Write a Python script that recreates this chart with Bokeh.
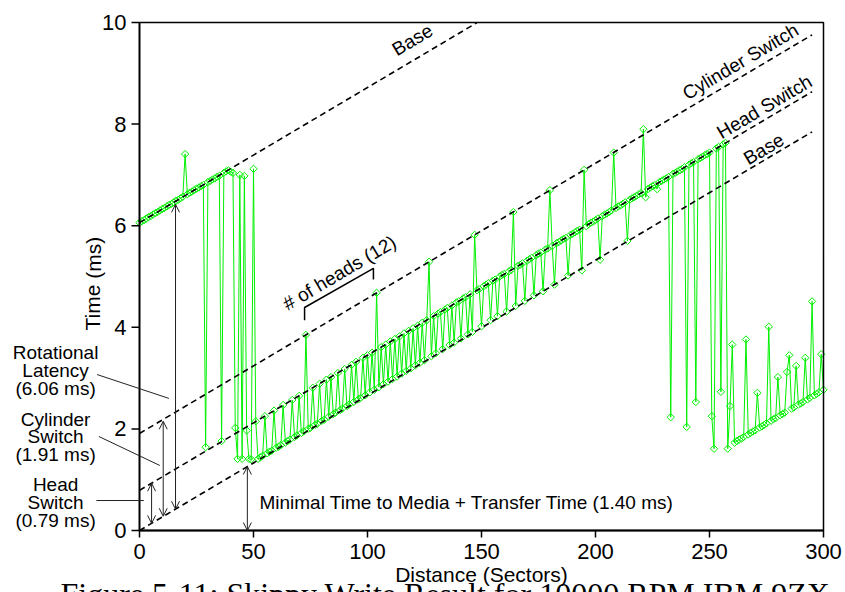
from bokeh.plotting import figure
from bokeh.models import Range1d, Label, Arrow, OpenHead
from bokeh.core.properties import value
from bokeh.embed import file_html
from bokeh.resources import INLINE

# ---------------- data ----------------
distance = list(range(0, 301))  # sectors
time_ms = [
    6.06, 6.09, 6.11, 6.14, 6.17, 6.19, 6.22, 6.25, 6.27, 6.30,
    6.33, 6.35, 6.38, 6.41, 6.43, 6.46, 6.49, 6.51, 6.54, 6.57,
    7.41, 6.62, 6.65, 6.67, 6.70, 6.73, 6.75, 6.78, 6.80, 1.64,
    6.86, 6.88, 6.91, 6.93, 6.96, 6.98, 1.76, 7.04, 7.07, 7.09,
    7.06, 7.04, 2.02, 1.41, 7.00, 1.41, 6.98, 1.97, 1.41, 1.40,
    7.12, 2.15, 1.41, 1.44, 1.47, 2.25, 1.52, 1.55, 1.57, 2.36,
    1.63, 1.65, 1.68, 2.47, 1.73, 1.76, 1.79, 2.57, 1.84, 1.87,
    2.65, 1.92, 1.95, 3.85, 2.00, 2.02, 2.81, 2.08, 2.10, 2.89,
    2.16, 2.18, 2.97, 2.24, 3.02, 2.29, 2.32, 3.10, 2.37, 2.40,
    3.18, 2.45, 2.48, 3.26, 2.53, 3.32, 2.58, 2.61, 3.40, 2.66,
    3.45, 2.72, 3.50, 2.77, 4.68, 2.82, 3.61, 2.88, 3.66, 2.93,
    3.72, 2.98, 3.77, 3.03, 3.82, 3.09, 3.88, 3.14, 3.93, 3.19,
    3.98, 3.25, 4.03, 3.30, 4.09, 3.35, 4.14, 5.29, 3.43, 4.22,
    3.49, 4.27, 4.30, 3.57, 4.35, 4.38, 3.65, 4.43, 3.70, 4.49,
    4.51, 3.78, 4.57, 4.59, 3.86, 4.65, 3.91, 5.82, 4.73, 4.75,
    4.02, 4.81, 4.84, 4.87, 4.14, 4.92, 4.94, 4.22, 5.00, 5.03,
    5.05, 4.31, 5.10, 5.13, 6.27, 4.42, 5.21, 5.23, 5.26, 4.52,
    5.31, 5.34, 5.37, 4.63, 5.42, 5.45, 5.47, 4.71, 5.53, 5.55,
    6.70, 5.60, 4.84, 5.66, 5.68, 5.71, 5.74, 5.76, 5.02, 5.82,
    5.84, 5.87, 5.90, 5.92, 5.12, 7.10, 5.99, 6.03, 6.06, 6.08,
    6.11, 6.14, 5.33, 6.19, 6.22, 6.24, 6.27, 6.30, 7.44, 6.35,
    6.38, 6.40, 6.43, 6.46, 5.70, 6.51, 6.54, 6.56, 6.59, 6.62,
    6.64, 7.90, 6.56, 6.72, 6.75, 6.78, 6.80, 6.72, 6.86, 6.88,
    6.91, 6.93, 6.96, 2.23, 7.02, 7.04, 7.07, 7.09, 7.12, 7.15,
    2.04, 7.20, 7.23, 7.25, 2.53, 7.31, 7.33, 7.36, 7.39, 7.41,
    7.44, 2.25, 1.61, 7.52, 7.55, 2.73, 7.60, 7.63, 1.61, 2.45,
    3.66, 1.73, 1.76, 1.79, 1.81, 1.84, 3.76, 1.89, 1.92, 1.95,
    1.97, 2.71, 2.03, 2.05, 2.08, 2.11, 4.01, 2.16, 2.19, 2.21,
    3.02, 2.27, 2.29, 2.32, 3.12, 3.45, 2.40, 2.42, 3.24, 2.48,
    2.50, 2.53, 3.40, 2.58, 2.61, 4.51, 2.66, 2.69, 2.72, 3.47,
    2.77,
]

# reference (dashed) lines: intercept (ms) and common slope (ms per sector)
ref_names = ["Base", "Head Switch", "Cylinder Switch", "Base"]
ref_intercepts = [0.0, 0.79, 1.91, 6.06]
ref_slope = 0.0266
ref_x_end = [295, 295, 295, 148]

x_ticks = [0, 50, 100, 150, 200, 250, 300]
x_tick_labels = ["0", "50", "100", "150", "200", "250", "300"]
y_ticks = [0, 2, 4, 6, 8, 10]
y_tick_labels = ["0", "2", "4", "6", "8", "10"]

x_title = "Distance (Sectors)"
y_title = "Time (ms)"
caption = "Figure 5-11: Skippy Write Result for 10000 RPM IBM 9ZX"

# ---------------- figure ----------------
# The frame spans the whole canvas so that the notes left of the axes and the
# caption below them can be drawn; the axes are drawn with the plot's scales.
W, H = 845, 592
X0_PX, X1_PX = 139, 823      # pixel columns of x = 0 and x = 300
Y0_PX, Y1_PX = 530, 22       # pixel rows of y = 0 and y = 10
XMAX, YMAX = 300, 10
sx = (X1_PX - X0_PX) / XMAX   # px per sector
sy = (Y0_PX - Y1_PX) / YMAX   # px per ms
x_lo = -X0_PX / sx
x_hi = x_lo + W / sx
y_hi = YMAX + Y1_PX / sy
y_lo = y_hi - H / sy

SANS = value("Liberation Sans")
SERIF = value("Liberation Serif")
GREEN = "#00f000"
DARK = "#222222"

p = figure(width=W, height=H, output_backend="svg", toolbar_location=None,
           x_range=Range1d(x_lo, x_hi), y_range=Range1d(y_lo, y_hi),
           x_axis_type=None, y_axis_type=None,
           min_border=0, min_border_left=0, min_border_right=0,
           min_border_top=0, min_border_bottom=0)
p.xgrid.visible = False
p.ygrid.visible = False
p.outline_line_color = None
p.background_fill_color = "white"
p.border_fill_color = "white"

# measured data
p.line(distance, time_ms, line_color=GREEN, line_width=1)
p.scatter(distance, time_ms, marker="square", angle=0.785398, size=5.2,
          line_color=GREEN, fill_color=None, line_width=1)

# dashed reference lines
for b, xe in zip(ref_intercepts, ref_x_end):
    p.line([0, xe], [b, b + ref_slope * xe], line_color="black",
           line_width=1.6, line_dash="6 4")

# ---- axes (frame, ticks, tick labels, titles) ----
p.line([0, XMAX, XMAX, 0], [YMAX, YMAX, 0, 0], line_color="black", line_width=1.5)
p.line([0, 0, XMAX], [YMAX, 0, 0], line_color="black", line_width=2)
tick_len_x = 7 / sy
tick_len_y = 8 / sx
p.segment(x0=x_ticks, y0=[0] * len(x_ticks), x1=x_ticks,
          y1=[-tick_len_x] * len(x_ticks), line_color="black", line_width=1.5)
p.segment(x0=[0] * len(y_ticks), y0=y_ticks, x1=[-tick_len_y] * len(y_ticks),
          y1=y_ticks, line_color="black", line_width=1.5)
p.text(x=x_ticks, y=[-13 / sy] * len(x_ticks), text=x_tick_labels,
       text_align="center", text_baseline="top", text_font=SANS,
       text_font_size="22px", text_color="black")
p.text(x=[-13 / sx] * len(y_ticks), y=y_ticks, text=y_tick_labels,
       text_align="right", text_baseline="middle", text_font=SANS,
       text_font_size="22px", text_color="black")
p.text(x=[XMAX / 2], y=[-32 / sy], text=[x_title], text_align="center",
       text_baseline="top", text_font=SANS, text_font_size="21px",
       text_color="black")
p.text(x=[-46.5 / sx], y=[4.86], text=[y_title], angle=1.570796,
       text_align="center", text_baseline="middle", text_font=SANS,
       text_font_size="21px", text_color="black")

# rotated line labels
ANG = 0.5346
for txt, (lx, ly) in zip(["Base", "Cylinder Switch", "Head Switch", "Base"],
                         [(119.7, 9.66), (263.6, 9.23), (274.1, 8.34), (273.8, 7.51)]):
    p.add_layout(Label(x=lx, y=ly, text=txt, angle=ANG, text_align="center",
                       text_baseline="middle", text_font="Liberation Sans",
                       text_font_size="19px", text_color="black"))

# "# of heads (12)" bracket and label
p.line([72.4, 72.4, 102.6, 102.6], [4.14, 4.39, 5.16, 4.94],
       line_color="black", line_width=1.5)
p.add_layout(Label(x=87.7, y=5.07, text="# of heads (12)", angle=ANG,
                   text_align="center", text_baseline="middle",
                   text_font="Liberation Sans", text_font_size="19px",
                   text_color="black"))

# double-headed arrows
def dbl_arrow(x, y0, y1):
    p.add_layout(Arrow(start=OpenHead(size=8, line_width=1, line_color=DARK),
                       end=OpenHead(size=8, line_width=1, line_color=DARK),
                       x_start=x, y_start=y0, x_end=x, y_end=y1,
                       line_color=DARK, line_width=1))

dbl_arrow(5.3, 0.14, 0.93)
dbl_arrow(10.4, 0.28, 2.15)
dbl_arrow(15.8, 0.42, 6.42)
dbl_arrow(47.3, 0.0, 1.26)

# leader lines from the left notes
for (xa, ya, xb, yb) in [(-18.6, 3.07, 12.9, 2.60),
                         (-17.8, 1.85, 8.9, 1.28),
                         (-18.9, 0.59, 1.9, 0.59)]:
    p.add_layout(Arrow(start=None, end=None, x_start=xa, y_start=ya,
                       x_end=xb, y_end=yb, line_color=DARK, line_width=1))

# left side notes (one line each)
notes = [("Rotational", 3.51), ("Latency", 3.15), ("(6.06 ms)", 2.80),
         ("Cylinder", 2.19), ("Switch", 1.86), ("(1.91 ms)", 1.50),
         ("Head", 0.91), ("Switch", 0.55), ("(0.79 ms)", 0.20)]
for txt, ly in notes:
    p.add_layout(Label(x=-36.8, y=ly, text=txt, text_align="center",
                       text_baseline="middle", text_font="Liberation Sans",
                       text_font_size="19px", text_color="black"))

p.add_layout(Label(x=52.6, y=0.55, text="Minimal Time to Media + Transfer Time (1.40 ms)",
                   text_align="left", text_baseline="middle",
                   text_font="Liberation Sans", text_font_size="19px",
                   text_color="black"))

# figure caption (cut off at the bottom of the page, as in the reference)
p.text(x=[134.2], y=[-45 / sy], text=[caption], text_align="center",
       text_baseline="top", text_font=SERIF, text_font_size="32px",
       text_color="black")

open("out.html", "w").write(file_html(p, INLINE))
